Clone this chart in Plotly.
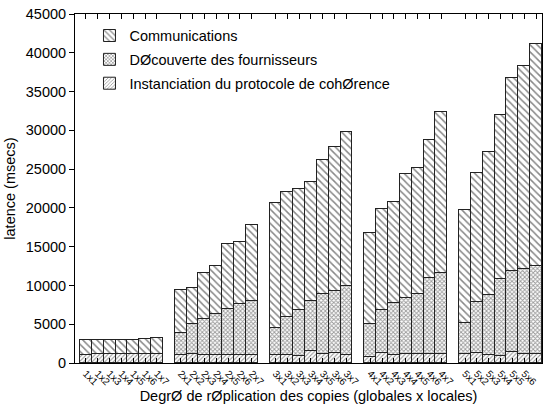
import plotly.graph_objects as go

# ---- data (msecs) ----
globales = [1, 2, 3, 4, 5]
locales = [1, 2, 3, 4, 5, 6, 7]
labels = [f"{g}x{l}" for g in globales for l in locales]

instanciation = [1000, 1100, 1100, 1100, 1100, 1100, 1100,
                 1080, 1200, 1050, 1050, 1050, 1080, 1080,
                 1080, 1080, 900, 1550, 1100, 1340, 990,
                 770, 1290, 990, 1120, 1100, 1100, 1100,
                 1210, 1250, 1080, 900, 1420, 1210, 1120]
decouverte = [0, 0, 0, 0, 0, 0, 0,
              2840, 3880, 4680, 5230, 5940, 6580, 6920,
              3490, 4860, 5990, 6500, 7850, 7910, 8910,
              4310, 5510, 6750, 7320, 7760, 9920, 10510,
              4000, 6620, 7750, 9990, 10410, 10970, 11400]
communications = [1930, 1920, 1830, 1830, 1920, 2050, 2180,
                  5550, 4650, 5930, 6200, 8380, 7910, 9770,
                  16000, 16130, 15610, 15230, 17200, 18620, 19910,
                  11690, 13030, 12960, 15910, 16220, 17720, 20780,
                  14580, 16650, 18320, 21070, 24870, 26100, 28560]

# positions: 7 bars per group, one empty slot between groups
xpos = [gi * (len(locales) + 1) + li
        for gi in range(len(globales)) for li in range(len(locales))]

FONT = "Liberation Sans, Arial, Helvetica, sans-serif"
line = dict(color="#222", width=1)

fig = go.Figure()
fig.add_trace(go.Bar(
    x=xpos, y=instanciation, width=1, legendrank=3, legendgroup="c",
    name="Instanciation du protocole de cohØrence",
    marker=dict(color="white", line=line,
                pattern=dict(shape="/", fgcolor="#333", bgcolor="white",
                             size=3, solidity=0.35)),
))
fig.add_trace(go.Bar(
    x=xpos, y=decouverte, width=1, legendrank=2, legendgroup="b",
    name="DØcouverte des fournisseurs",
    marker=dict(color="white", line=line,
                pattern=dict(shape="x", fgcolor="#333", bgcolor="white",
                             size=3, solidity=0.5)),
))
fig.add_trace(go.Bar(
    x=xpos, y=communications, width=1, legendrank=1, legendgroup="a",
    name="Communications",
    marker=dict(color="white", line=line,
                pattern=dict(shape="\\", fgcolor="#111", bgcolor="white",
                             size=5, solidity=0.3)),
))

fig.update_layout(
    width=550, height=409,
    barmode="stack", bargap=0,
    paper_bgcolor="white", plot_bgcolor="white",
    margin=dict(l=75, r=8, t=14, b=46),
    font=dict(family=FONT, size=14.5, color="black"),
    showlegend=True,
    legend=dict(x=0.031, y=0.984, xanchor="left", yanchor="top",
                traceorder="grouped", tracegroupgap=2,
                bgcolor="rgba(0,0,0,0)", font=dict(size=14.5)),
    xaxis=dict(
        range=[-0.92, xpos[-1] + 0.5], automargin=False,
        tickmode="array", tickvals=xpos, ticktext=labels,
        tickangle=45, tickfont=dict(size=10),
        ticks="inside", ticklen=5, tickcolor="black",
        showline=True, linecolor="black", linewidth=1, mirror="ticks",
        showgrid=False, zeroline=False,
        title=dict(text="DegrØ de rØplication des copies (globales x locales)",
                   standoff=2, font=dict(size=14.5)),
    ),
    yaxis=dict(
        range=[0, 45000], dtick=5000, tickformat="d", automargin=False,
        ticks="outside", ticklen=5, tickcolor="black",
        showline=True, linecolor="black", linewidth=1, mirror=True,
        showgrid=False, zeroline=False,
        title=dict(text="latence (msecs)", standoff=6, font=dict(size=14.5)),
    ),
)

fig.write_html("out.html",
               config={"displayModeBar": False},
               post_script="document.body.style.margin='0';"
                           "document.body.style.overflow='hidden';")
